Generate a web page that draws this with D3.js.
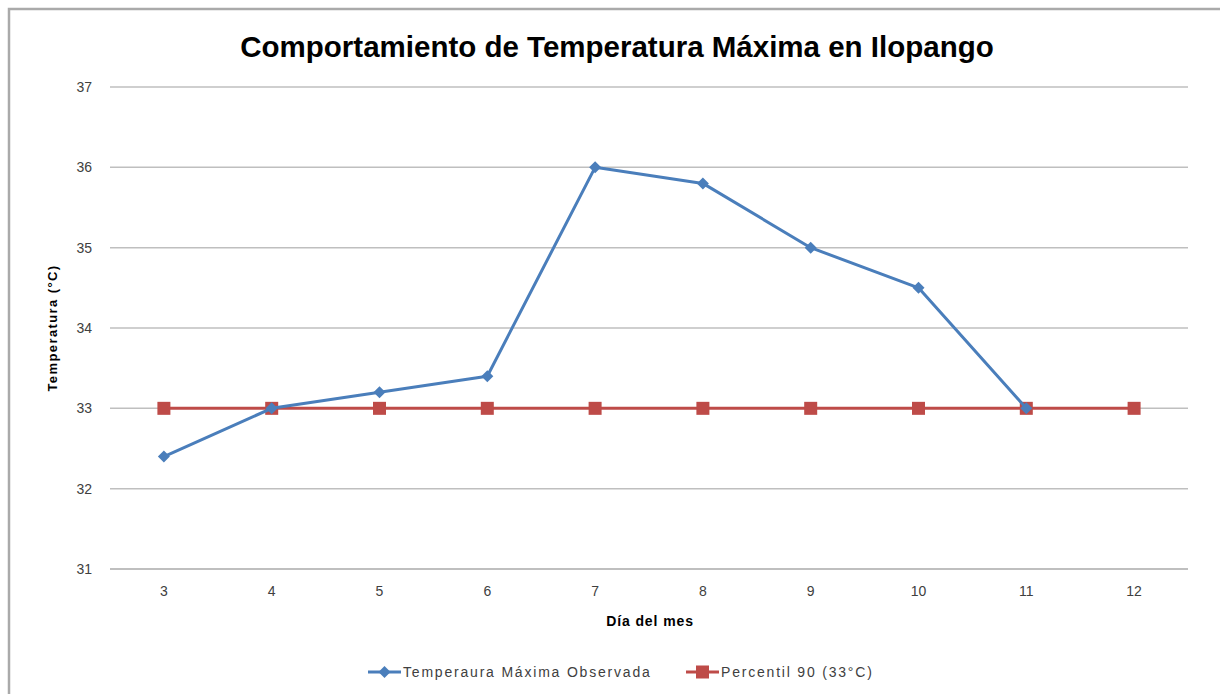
<!DOCTYPE html>
<html>
<head>
<meta charset="utf-8">
<script src="https://cdn.jsdelivr.net/npm/d3@7"></script>
<style>
  html, body { margin: 0; padding: 0; background: #fff; }
  svg { display: block; }
  text { font-family: "Liberation Sans Narrow", "Liberation Sans", Arial, sans-serif; }
</style>
</head>
<body>
<svg id="chart" width="1220" height="694"></svg>
<script>
const days = ["3", "4", "5", "6", "7", "8", "9", "10", "11", "12"];
const observed = [32.4, 33.0, 33.2, 33.4, 36.0, 35.8, 35.0, 34.5, 33.0, null];
const percentil = [33, 33, 33, 33, 33, 33, 33, 33, 33, 33];
const yTicks = [31, 32, 33, 34, 35, 36, 37];
const titleText = "Comportamiento de Temperatura Máxima en Ilopango";
const yTitle = "Temperatura (°C)";
const xTitle = "Día del mes";
const seriesNames = ["Temperaura Máxima Observada", "Percentil 90 (33°C)"];

(function () {
const svg = d3.select("#chart");
const blue = "#4a7ebb", red = "#be4b48";
const ff = '"Liberation Sans Narrow", "Liberation Sans", Arial, sans-serif';

// outer frame
svg.append("path")
  .attr("d", "M9,700 L9,9 L1230,9")
  .attr("fill", "none").attr("stroke", "#aaaaaa").attr("stroke-width", 2.5);

const pLeft = 110, pRight = 1188, pTop = 87, pBottom = 569;
const x = d3.scaleBand().domain(days).range([pLeft, pRight]);
const y = d3.scaleLinear().domain([31, 37]).range([pBottom, pTop]);
const cx = d => x(d) + x.bandwidth() / 2;

// gridlines
svg.append("g").selectAll("line").data(yTicks).join("line")
  .attr("x1", pLeft).attr("x2", pRight)
  .attr("y1", d => y(d)).attr("y2", d => y(d))
  .attr("stroke", "#bfbfbf").attr("stroke-width", d => d === 31 ? 2 : 1.5);

// y axis labels
const yAxis = d3.axisLeft(y).tickValues(yTicks).tickFormat(d3.format("d")).tickSize(0).tickPadding(0);
const gy = svg.append("g").attr("transform", `translate(${pLeft - 18},0)`).call(yAxis);
gy.select(".domain").remove();
gy.selectAll("text").attr("font-size", 14).attr("fill", "#404040").style("font-family", ff);

// x axis labels
const xAxis = d3.axisBottom(x).tickSize(0).tickPadding(0);
const gx = svg.append("g").attr("transform", `translate(0,${pBottom + 17})`).call(xAxis);
gx.select(".domain").remove();
gx.selectAll("text").attr("font-size", 14).attr("fill", "#404040").style("font-family", ff);

// title
svg.append("text").attr("x", 617).attr("y", 57).attr("text-anchor", "middle")
  .attr("font-size", 29.5).attr("font-weight", "bold").attr("fill", "#000")
  .text(titleText);

// axis titles
svg.append("text").attr("transform", "translate(57,328) rotate(-90)")
  .attr("text-anchor", "middle").attr("font-size", 13).attr("font-weight", "bold")
  .attr("letter-spacing", 1.4).attr("fill", "#000").text(yTitle);
svg.append("text").attr("x", 650).attr("y", 626).attr("text-anchor", "middle")
  .attr("font-size", 14).attr("font-weight", "bold").attr("letter-spacing", 0.9)
  .attr("fill", "#000").text(xTitle);

// red series
const redData = days.map((d, i) => ({ d, v: percentil[i] }));
const line = d3.line().defined(p => p.v != null).x(p => cx(p.d)).y(p => y(p.v));
svg.append("path").datum(redData).attr("d", line)
  .attr("fill", "none").attr("stroke", red).attr("stroke-width", 3);
svg.append("g").selectAll("rect").data(redData).join("rect")
  .attr("x", p => cx(p.d) - 6.5).attr("y", p => y(p.v) - 6.5)
  .attr("width", 13).attr("height", 13).attr("fill", red);

// blue series
const blueData = days.map((d, i) => ({ d, v: observed[i] })).filter(p => p.v != null);
svg.append("path").datum(blueData).attr("d", line)
  .attr("fill", "none").attr("stroke", blue).attr("stroke-width", 3).attr("stroke-linejoin", "round");
const diamond = d3.symbol().type(d3.symbolSquare).size(72);
svg.append("g").selectAll("path").data(blueData).join("path")
  .attr("d", diamond)
  .attr("transform", p => `translate(${cx(p.d)},${y(p.v)}) rotate(45)`)
  .attr("fill", blue);

// legend
const lg = svg.append("g");
lg.append("line").attr("x1", 368).attr("x2", 401).attr("y1", 672).attr("y2", 672)
  .attr("stroke", blue).attr("stroke-width", 3);
lg.append("path").attr("d", diamond).attr("transform", "translate(384.5,672) rotate(45)").attr("fill", blue);
lg.append("text").attr("x", 403).attr("y", 677).attr("font-size", 14).attr("letter-spacing", 1.8)
  .attr("fill", "#404040").text(seriesNames[0]);
lg.append("line").attr("x1", 686).attr("x2", 719).attr("y1", 672).attr("y2", 672)
  .attr("stroke", red).attr("stroke-width", 3);
lg.append("rect").attr("x", 696).attr("y", 665.5).attr("width", 13).attr("height", 13).attr("fill", red);
lg.append("text").attr("x", 721).attr("y", 677).attr("font-size", 14).attr("letter-spacing", 1.8)
  .attr("fill", "#404040").text(seriesNames[1]);
})();
</script>
</body>
</html>
